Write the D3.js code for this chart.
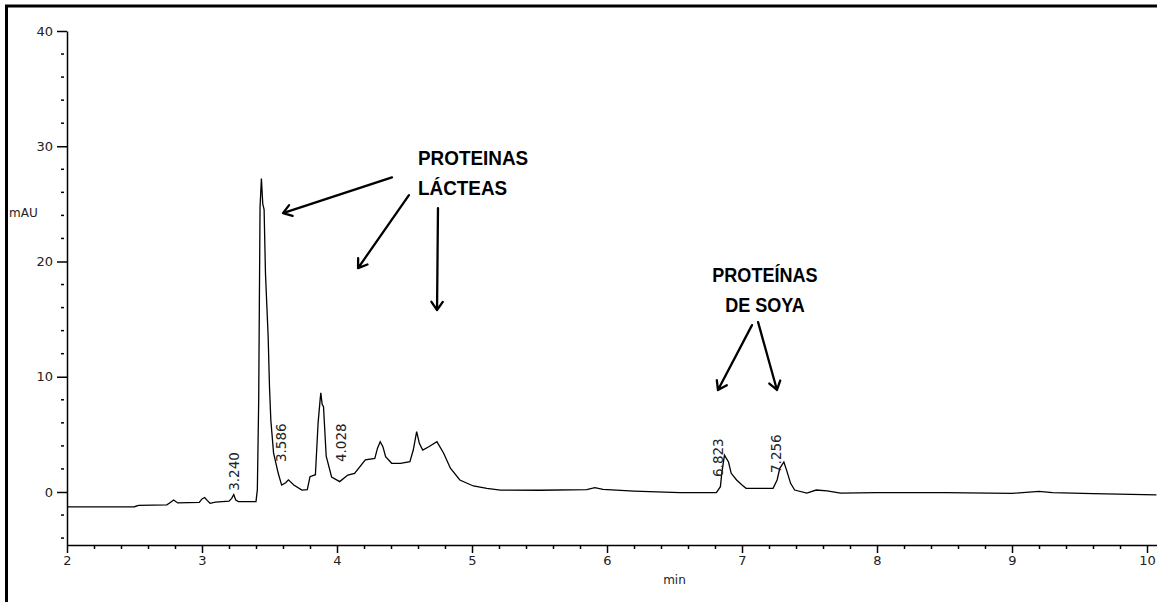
<!DOCTYPE html>
<html>
<head>
<meta charset="utf-8">
<script src="https://cdn.jsdelivr.net/npm/d3@7"></script>
<style>
  html, body { margin: 0; padding: 0; background: #fff; }
  svg { display: block; }
</style>
</head>
<body>
<svg id="chart" width="1157" height="602"></svg>
<script>
// Chromatogram trace: retention time (min) and detector response (mAU)
const timeMin = [
  2.00, 2.50, 2.53, 2.74, 2.76, 2.79, 2.82, 2.98, 3.00, 3.02, 3.04, 3.06, 3.10, 3.20,
  3.22, 3.235, 3.25, 3.27, 3.40, 3.41, 3.42, 3.425, 3.43, 3.44, 3.45, 3.46, 3.47, 3.49,
  3.50, 3.51, 3.53, 3.565, 3.59, 3.62, 3.64, 3.68, 3.74, 3.78, 3.80, 3.84, 3.86, 3.875,
  3.88, 3.89, 3.90, 3.92, 3.96, 4.02, 4.08, 4.13, 4.21, 4.28, 4.30, 4.32, 4.34, 4.36,
  4.405, 4.47, 4.54, 4.565, 4.59, 4.61, 4.635, 4.68, 4.74, 4.79, 4.84, 4.91, 5.01, 5.11,
  5.21, 5.50, 5.85, 5.91, 5.97, 6.20, 6.54, 6.81, 6.84, 6.85, 6.87, 6.90, 6.92, 6.96,
  7.00, 7.03, 7.23, 7.26, 7.28, 7.31, 7.33, 7.36, 7.39, 7.48, 7.55, 7.63, 7.73, 8.00,
  8.50, 9.00, 9.20, 9.30, 9.60, 10.07
];
const signalMAU = [
  -1.30, -1.28, -1.16, -1.12, -0.95, -0.70, -0.95, -0.90, -0.60, -0.48, -0.75, -0.98, -0.88, -0.80,
  -0.55, -0.22, -0.70, -0.84, -0.84, 0.20, 8.0, 16.6, 24.7, 27.2, 25.0, 24.5, 19.0, 13.5,
  9.1, 6.2, 3.4, 1.6, 0.6, 0.8, 1.05, 0.6, 0.17, 0.20, 1.33, 1.50, 6.0, 8.0,
  8.6, 7.6, 7.4, 3.1, 1.3, 0.9, 1.47, 1.62, 2.78, 2.92, 3.8, 4.36, 3.93, 3.06,
  2.49, 2.49, 2.63, 3.64, 5.23, 4.22, 3.64, 3.93, 4.36, 3.36, 2.06, 1.04, 0.52, 0.32,
  0.17, 0.15, 0.20, 0.38, 0.22, 0.08, -0.06, -0.06, 0.46, 1.62, 3.2, 2.6, 1.62, 1.04,
  0.60, 0.32, 0.32, 1.04, 2.05, 2.6, 1.9, 0.75, 0.17, -0.10, 0.17, 0.09, -0.10, -0.05,
  -0.05, -0.12, 0.05, -0.05, -0.15, -0.25
];

// Integrated peaks (retention times printed above the trace)
const peakTimes = [3.240, 3.586, 4.028, 6.823, 7.256];
const peakLabels = ["3.240", "3.586", "4.028", "6.823", "7.256"];

// Axis ticks
const xMajorTicks = [2, 3, 4, 5, 6, 7, 8, 9, 10];
const yMajorTicks = [0, 10, 20, 30, 40];

// Group annotations
const groupTitles = [["PROTEINAS", "LÁCTEAS"], ["PROTEÍNAS", "DE SOYA"]];

const svg = d3.select("#chart");
const tickFont = "DejaVu Sans, Liberation Sans, sans-serif";
const noteFont = "Liberation Sans, Arial, sans-serif";

const x = d3.scaleLinear().domain([2, 10.074]).range([67, 1157]);
const y = d3.scaleLinear().domain([-4.6, 40]).range([545, 31]);

// outer frame (runs past the right and bottom edges)
svg.append("rect")
  .attr("x", 6.5).attr("y", 6)
  .attr("width", 1200).attr("height", 700)
  .attr("fill", "none").attr("stroke", "#000").attr("stroke-width", 3);

// ---- x axis ----
const minorX = d3.range(2, 10.07, 0.2).filter(v => Math.abs(v - Math.round(v)) > 1e-6);
const gx = svg.append("g").attr("transform", `translate(0,${y(-4.6)})`);
gx.call(d3.axisBottom(x).tickValues(xMajorTicks).tickSize(8).tickSizeOuter(0).tickPadding(3)
  .tickFormat(d3.format("d")));
gx.append("g").call(d3.axisBottom(x).tickValues(minorX).tickSize(4).tickSizeOuter(0).tickFormat(""))
  .select(".domain").remove();
gx.selectAll("path, line").attr("stroke", "#000").attr("stroke-width", 1.5);
gx.selectAll("text").attr("font-family", tickFont).attr("font-size", 13).attr("fill", "#222");

svg.append("text")
  .attr("x", x(6.5)).attr("y", 584)
  .attr("text-anchor", "middle")
  .attr("font-family", tickFont).attr("font-size", 12).attr("fill", "#222")
  .text("min");

// ---- y axis ----
const gy = svg.append("g").attr("transform", `translate(${x(2)},0)`);
gy.call(d3.axisLeft(y).tickValues(yMajorTicks).tickSize(10).tickSizeOuter(0).tickPadding(4));
gy.selectAll("path, line").attr("stroke", "#000").attr("stroke-width", 1.5);
gy.selectAll("text").attr("font-family", tickFont).attr("font-size", 13).attr("fill", "#222");

const minorY = d3.range(-4, 40, 2).filter(v => v % 10 !== 0);
gy.selectAll("line.minor").data(minorY).join("line")
  .attr("class", "minor")
  .attr("x1", -6).attr("x2", -3)
  .attr("y1", d => y(d)).attr("y2", d => y(d))
  .attr("stroke", "#000").attr("stroke-width", 1.5);

svg.append("text")
  .attr("x", 9).attr("y", 217)
  .attr("font-family", tickFont).attr("font-size", 12).attr("fill", "#222")
  .text("mAU");

// ---- trace ----
const trace = d3.zip(timeMin, signalMAU);
svg.append("path")
  .datum(trace)
  .attr("fill", "none")
  .attr("stroke", "#000")
  .attr("stroke-width", 1.3)
  .attr("d", d3.line().x(d => x(d[0])).y(d => y(d[1])));

// ---- retention time labels, rotated, starting just above the trace ----
const labelFloor = [0.1, 2.6, 2.6, 1.3, 1.65];
svg.selectAll("text.rt").data(peakTimes).join("text")
  .attr("class", "rt")
  .attr("transform", (d, i) => `translate(${x(d)},${y(labelFloor[i])}) rotate(-90)`)
  .attr("dy", "0.35em")
  .attr("text-anchor", "start")
  .attr("font-family", tickFont).attr("font-size", 13.5).attr("fill", "#222")
  .text((d, i) => peakLabels[i]);

// ---- annotations ----
function arrow(t0, v0, t1, v1) {
  const x0 = x(t0), y0 = y(v0), x1 = x(t1), y1 = y(v1);
  const a = Math.atan2(y1 - y0, x1 - x0);
  const len = 10, spread = 0.6;
  const h1 = [x1 - len * Math.cos(a - spread), y1 - len * Math.sin(a - spread)];
  const h2 = [x1 - len * Math.cos(a + spread), y1 - len * Math.sin(a + spread)];
  svg.append("path")
    .attr("d", `M${x0},${y0}L${x1},${y1}M${h1[0]},${h1[1]}L${x1},${y1}L${h2[0]},${h2[1]}`)
    .attr("fill", "none").attr("stroke", "#000").attr("stroke-width", 2.3)
    .attr("stroke-linecap", "round").attr("stroke-linejoin", "round");
}
arrow(4.407, 27.3, 3.60, 24.2);
arrow(4.533, 25.76, 4.156, 19.43);
arrow(4.748, 24.63, 4.741, 15.78);
arrow(7.074, 14.48, 6.822, 8.85);
arrow(7.119, 14.74, 7.259, 8.85);

// narrow, tall bold lettering for the group titles
function titleBlock(lines, t, v1, v2, anchor, squeeze) {
  const g = svg.append("g")
    .attr("transform", `translate(${x(t)},0) scale(${squeeze},1)`);
  const txt = g.append("text")
    .attr("font-family", noteFont).attr("font-weight", "bold").attr("font-size", 21)
    .attr("text-anchor", anchor).attr("fill", "#000");
  txt.append("tspan").attr("x", 0).attr("y", y(v1)).text(lines[0]);
  txt.append("tspan").attr("x", 0).attr("y", y(v2)).text(lines[1]);
}
titleBlock(groupTitles[0], 4.6, 28.4, 25.76, "start", 0.9);
titleBlock(groupTitles[1], 7.17, 18.2, 15.6, "middle", 0.86);
</script>
</body>
</html>
